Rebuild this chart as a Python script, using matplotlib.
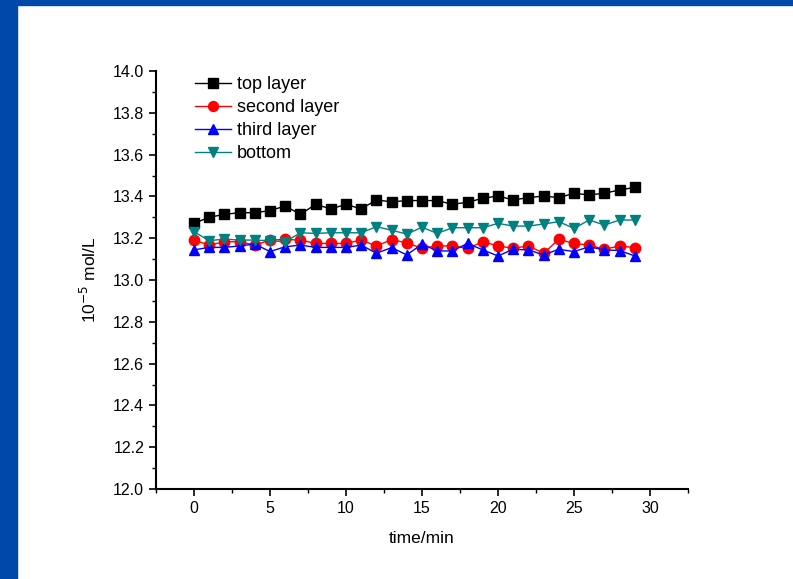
import matplotlib
matplotlib.use("Agg")
import matplotlib.pyplot as plt
from matplotlib.patches import Rectangle
from matplotlib.ticker import MultipleLocator

plt.rcParams['font.family'] = ['Liberation Sans', 'DejaVu Sans']

time_min = list(range(30))
top_layer = [13.271, 13.300, 13.314, 13.322, 13.322, 13.332, 13.354, 13.314, 13.362, 13.340,
             13.362, 13.340, 13.383, 13.374, 13.380, 13.380, 13.380, 13.362, 13.372, 13.391,
             13.402, 13.383, 13.394, 13.402, 13.394, 13.415, 13.407, 13.415, 13.431, 13.443]
second_layer = [13.191, 13.167, 13.183, 13.183, 13.167, 13.191, 13.194, 13.191, 13.175, 13.175,
                13.175, 13.191, 13.163, 13.193, 13.178, 13.152, 13.163, 13.163, 13.152, 13.183,
                13.163, 13.152, 13.163, 13.128, 13.194, 13.175, 13.167, 13.147, 13.163, 13.155]
third_layer = [13.144, 13.156, 13.156, 13.163, 13.172, 13.136, 13.159, 13.167, 13.156, 13.156,
               13.156, 13.167, 13.128, 13.155, 13.120, 13.172, 13.139, 13.139, 13.175, 13.144,
               13.115, 13.147, 13.144, 13.120, 13.147, 13.136, 13.159, 13.144, 13.141, 13.115]
bottom = [13.231, 13.188, 13.196, 13.191, 13.191, 13.188, 13.183, 13.226, 13.223, 13.226,
          13.226, 13.226, 13.255, 13.238, 13.220, 13.252, 13.223, 13.250, 13.250, 13.250,
          13.271, 13.258, 13.258, 13.268, 13.279, 13.247, 13.287, 13.263, 13.287, 13.287]

labels = ["top layer", "second layer", "third layer", "bottom"]
colors = ["#000000", "#FF0000", "#0000FF", "#008080"]
markers = ["s", "o", "^", "v"]

fig = plt.figure(figsize=(7.93, 5.79), dpi=100)
fig.patches.append(Rectangle((0, 0), 17/793, 1, transform=fig.transFigure,
                             color="#0048AA", zorder=0))
fig.patches.append(Rectangle((0, 1 - 5/579), 1, 5/579, transform=fig.transFigure,
                             color="#0048AA", zorder=0))

ax = fig.add_axes([156/793, 1 - 489/579, (688 - 156)/793, (489 - 71)/579])
for series, lab, c, m in zip([top_layer, second_layer, third_layer, bottom], labels, colors, markers):
    ax.plot(time_min, series, color=c, marker=m, markersize=7.5, linewidth=1, label=lab)

ax.set_xlim(-2.5, 32.5)
ax.set_ylim(12.0, 14.0)
ax.xaxis.set_major_locator(MultipleLocator(5))
ax.xaxis.set_minor_locator(MultipleLocator(2.5))
ax.yaxis.set_major_locator(MultipleLocator(0.2))
ax.yaxis.set_minor_locator(MultipleLocator(0.1))
ax.yaxis.set_major_formatter(matplotlib.ticker.FormatStrFormatter('%.1f'))
ax.spines['top'].set_visible(False)
ax.spines['right'].set_visible(False)
for s in ['left', 'bottom']:
    ax.spines[s].set_linewidth(1.5)
ax.tick_params(which='major', direction='out', length=5, width=1.2, labelsize=11.5)
ax.tick_params(which='minor', direction='out', length=3, width=1.0)
ax.set_xlabel("time/min", fontsize=12.5, labelpad=11)
ax.set_ylabel(r"10$^{-5}$ mol/L", fontsize=12.5, labelpad=10)

ax.legend(loc='upper left', bbox_to_anchor=(0.053, 1.013), frameon=False, fontsize=13,
          handlelength=2.0, handletextpad=0.3, labelspacing=0.33, borderaxespad=0.2,
          markerscale=0.95)

fig.savefig("out.png", dpi=100)
